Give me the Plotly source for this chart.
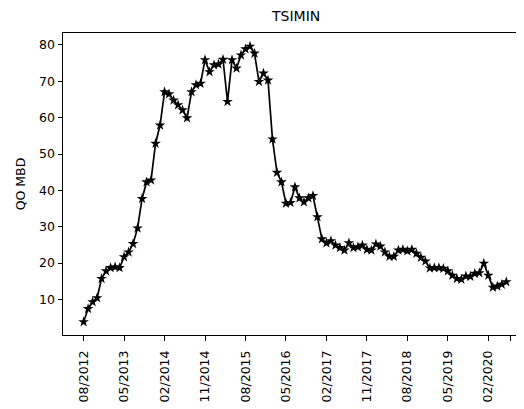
import plotly.graph_objects as go
import pandas as pd

# Monthly categories 08/2012 .. 06/2020
months = [p.strftime("%m/%Y") for p in pd.period_range("2012-08", "2020-06", freq="M")]

qo_mbd = [
    3.8, 7.4, 9.3, 10.4, 15.7, 17.8, 18.7, 18.9, 18.7, 21.7,
    23.0, 25.3, 29.6, 37.7, 42.3, 42.8, 52.9, 57.9, 67.1, 66.5,
    64.8, 63.5, 62.1, 59.9, 67.1, 69.0, 69.4, 75.9, 72.6, 74.5,
    74.7, 76.0, 64.4, 75.9, 73.6, 77.2, 78.9, 79.6, 77.7, 69.9,
    72.2, 70.3, 54.1, 44.9, 42.3, 36.4, 36.6, 40.9, 37.9, 36.8,
    37.9, 38.5, 32.7, 26.6, 25.5, 26.1, 24.9, 24.2, 23.5, 25.5,
    24.2, 24.4, 24.9, 23.7, 23.5, 25.2, 24.6, 23.0, 21.8, 21.8,
    23.5, 23.7, 23.3, 23.7, 22.6, 21.5, 20.5, 18.6, 18.7, 18.7,
    18.5, 17.8, 16.6, 15.7, 15.5, 16.4, 16.3, 17.1, 17.3, 19.9,
    16.6, 13.3, 13.6, 14.1, 14.8,
]

tick_labels = ["08/2012", "05/2013", "02/2014", "11/2014", "08/2015", "05/2016",
               "02/2017", "11/2017", "08/2018", "05/2019", "02/2020"]
y_ticks = [10, 20, 30, 40, 50, 60, 70, 80]

x_idx = list(range(len(months)))
tickvals = [months.index(l) for l in tick_labels] + [len(months)]
ticktext = tick_labels + [""]

fig = go.Figure()
fig.add_trace(go.Scatter(
    x=x_idx, y=qo_mbd, mode="lines+markers",
    line=dict(color="black", width=1.7),
    marker=dict(symbol="star", size=8, color="black"),
    hovertext=months,
))

# page body has an 8px margin: figure occupies page x 8..524, y 8..409
OFF = 8
W, H = 524 - OFF, 409 - OFF
L, T = 62.7 - OFF, 33 - OFF
B = H - (335 - OFF)
plot_w = W - L

fig.update_layout(
    width=W, height=H,
    margin=dict(l=L, r=0, t=T, b=B, pad=0, autoexpand=False),
    paper_bgcolor="white", plot_bgcolor="white",
    showlegend=False,
    font=dict(family="DejaVu Sans", size=12.5, color="black"),
    title=dict(text="TSIMIN", x=(296 - 62.7) / plot_w, xref="paper", xanchor="center",
               y=1 - (16 - OFF) / H, yanchor="middle", font=dict(size=14, color="black"),
               automargin=False),
    xaxis=dict(
        range=[-4.58, -4.58 + plot_w / 4.5],
        tickmode="array", tickvals=tickvals, ticktext=ticktext,
        tickangle=-90, ticks="outside", ticklen=4.5, tickwidth=1, tickcolor="black",
        showgrid=False, zeroline=False, automargin=False,
        showline=True, linecolor="black", linewidth=1, mirror=True,
        tickfont=dict(size=12.5, color="black"), ticklabelstandoff=5,
    ),
    yaxis=dict(
        range=[0.2, 83.3],
        tickmode="array", tickvals=y_ticks,
        ticks="outside", ticklen=4.5, tickwidth=1, tickcolor="black",
        showgrid=False, zeroline=False, automargin=False,
        showline=True, linecolor="black", linewidth=1, mirror=False,
        tickfont=dict(size=12.5, color="black"),
        title=dict(text="QO MBD", font=dict(size=12.5, color="black"), standoff=10),
    ),
)

fig.write_html("out.html")
